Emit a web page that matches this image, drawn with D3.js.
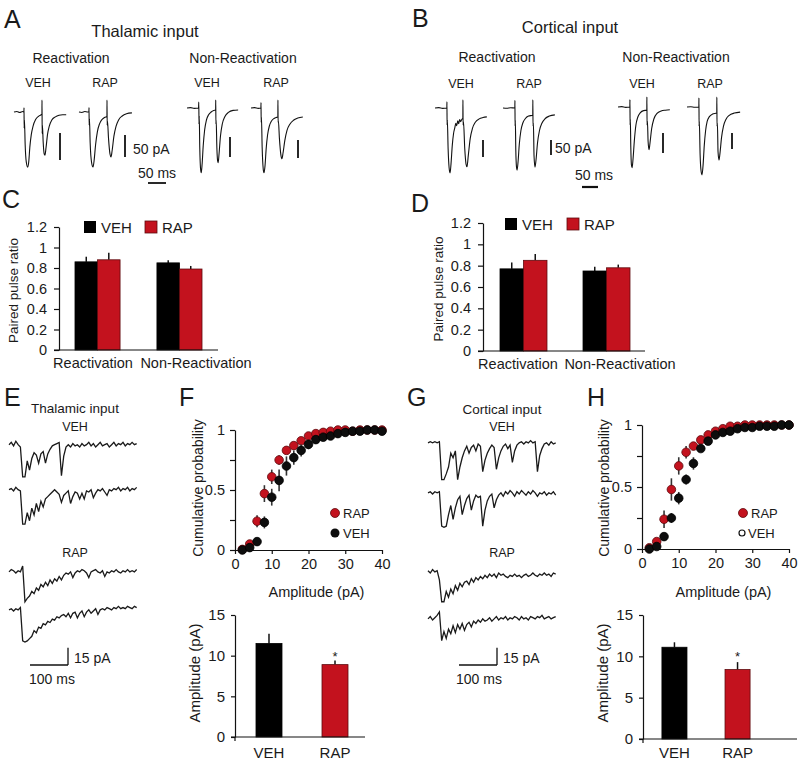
<!DOCTYPE html>
<html><head><meta charset="utf-8">
<script src="https://cdn.jsdelivr.net/npm/d3@7"></script>
<style>
body{margin:0;background:#fff}
svg{display:block}
text{font-family:"Liberation Sans",Arial,Helvetica,sans-serif;fill:#1a1a1a}
</style>
</head><body><script>
// ================= DATA =================
const groups = ["Reactivation", "Non-Reactivation"];
const conds = ["VEH", "RAP"];
// Paired pulse ratio (C: thalamic, D: cortical)
const pprThalVEH = [0.86, 0.85], pprThalVEHerr = [0.05, 0.025];
const pprThalRAP = [0.88, 0.79], pprThalRAPerr = [0.07, 0.03];
const pprCortVEH = [0.77, 0.75], pprCortVEHerr = [0.06, 0.04];
const pprCortRAP = [0.85, 0.78], pprCortRAPerr = [0.06, 0.03];
const pprTicks = [0, 0.2, 0.4, 0.6, 0.8, 1, 1.2];

// Cumulative probability of mEPSC amplitude
const ampBins = [2,4,6,8,10,12,14,16,18,20,22,24,26,28,30,32,34,36,38,40];
const cumThalRAP    = [0.005,0.05,0.24,0.47,0.61,0.75,0.83,0.87,0.91,0.95,0.97,0.98,0.99,1.0,1.0,0.99,1.0,1.0,1.0,1.0];
const cumThalRAPerr = [0,0.01,0.05,0.07,0.06,0.04,0.03,0.02,0.02,0.01,0.01,0,0,0,0,0,0,0,0,0];
const cumThalVEH    = [0.0,0.02,0.07,0.23,0.44,0.58,0.70,0.77,0.83,0.88,0.92,0.94,0.95,0.97,0.98,0.99,0.99,1.0,1.0,0.99];
const cumThalVEHerr = [0,0.01,0.02,0.05,0.07,0.09,0.08,0.06,0.05,0.04,0.03,0.02,0.02,0.01,0.01,0,0,0,0,0];
const cumCortRAP    = [0.01,0.06,0.24,0.48,0.67,0.78,0.83,0.88,0.92,0.95,0.97,0.99,0.99,1.0,1.0,1.0,1.0,1.0,1.0,1.0];
const cumCortRAPerr = [0,0.01,0.07,0.09,0.07,0.05,0.03,0.02,0.02,0.01,0.01,0.01,0,0,0,0,0,0,0,0];
const cumCortVEH    = [0.0,0.02,0.10,0.25,0.41,0.56,0.69,0.81,0.87,0.92,0.94,0.95,0.97,0.98,0.98,0.99,0.99,0.99,1.0,1.0];
const cumCortVEHerr = [0,0.01,0.02,0.04,0.05,0.04,0.05,0.02,0.02,0.01,0.01,0,0,0,0,0,0,0,0,0];
const cumXTicks = [0, 10, 20, 30, 40];
const cumYTicks = [0, 0.25, 0.5, 0.75, 1];
const cumYLabelled = [0, 0.5, 1];

// Mean mEPSC amplitude (pA)
const ampThal = [11.5, 8.9], ampThalErr = [1.2, 0.5];
const ampCort = [11.1, 8.4], ampCortErr = [0.6, 0.9];
const ampTicks = [0, 5, 10, 15];

// Paired-pulse EPSC traces: [time (ms), current (pA)]
const trThalReactVEH = [[0,0],[8,1],[16,-1],[24,1],[27.5,0],[27.8,8],[28.3,-30],[29,-15],[31,-60],[34,-92],[38,-102],[41,-92],[44,-65],[48,-42],[53,-26],[60,-14],[68,-8],[76,-5],[77.6,-4],[77.8,22],[78.3,-40],[79,-25],[81,-55],[84,-78],[86,-80],[89,-66],[93,-42],[98,-26],[105,-15],[115,-9],[125,-6],[135,-5],[145,-5]];
const trThalReactRAP = [[0,0],[8,-1],[16,1],[24,0],[27.5,0],[27.8,10],[28.3,-30],[29,-15],[31,-70],[35,-115],[39,-125],[42,-110],[46,-75],[51,-45],[57,-27],[64,-17],[72,-12],[77.6,-10],[77.8,27],[78.3,-30],[79,-20],[82,-60],[86,-95],[89,-102],[92,-88],[97,-55],[103,-32],[110,-18],[120,-9],[132,-4],[147,-2]];
const trThalNonVEH = [[0,0],[10,1],[20,-1],[32,0],[32.8,15],[33.3,-40],[34,-20],[35.5,-100],[37.5,-150],[39.5,-162],[42,-140],[45,-95],[49,-55],[54,-30],[60,-17],[67,-10],[74,-6],[79.6,-5],[79.8,20],[80.3,-40],[81,-30],[83,-100],[85,-132],[86.5,-137],[89,-115],[93,-70],[98,-40],[105,-22],[115,-11],[128,-6],[142,-5]];
const trThalNonRAP = [[0,0],[10,1],[20,-1],[27.5,0],[27.8,15],[28.3,-40],[29,-25],[31,-110],[34,-170],[36,-180],[39,-160],[42,-115],[46,-75],[51,-50],[57,-36],[64,-29],[71,-26],[74.6,-25],[74.8,22],[75.3,-40],[76,-35],[79,-85],[83,-130],[86,-141],[89,-125],[94,-90],[100,-62],[108,-45],[118,-34],[130,-28],[144,-25]];
const trCortReactVEH = [[0,0],[12,1],[24,-1],[37,0],[37.3,18],[37.8,-50],[38.5,-35],[41,-120],[44,-175],[47,-191],[50,-165],[54,-110],[58,-75],[62,-58],[65,-45],[68,-52],[71,-38],[74,-46],[77,-34],[80,-40],[84,-33],[87,-30],[87.3,24],[87.8,-50],[89,-40],[93,-120],[97,-165],[100,-173],[104,-140],[110,-90],[117,-60],[126,-42],[138,-32],[150,-28],[162,-26]];
const trCortReactRAP = [[0,0],[12,-1],[24,1],[37,0],[37.3,25],[37.8,-60],[38.5,-40],[40,-140],[42,-195],[44,-207],[47,-180],[51,-120],[56,-75],[62,-50],[70,-35],[80,-27],[93,-24],[93.3,27],[93.8,-60],[95,-50],[97,-160],[100,-197],[103,-175],[108,-115],[114,-75],[122,-50],[132,-35],[145,-27],[162,-23]];
const trCortNonVEH = [[0,0],[12,1],[24,-1],[37,0],[37.3,18],[37.8,-45],[38.5,-30],[40,-100],[42,-145],[44,-152],[47,-130],[51,-85],[56,-45],[62,-25],[70,-14],[80,-9],[90,-8],[90.3,25],[90.8,-45],[92,-35],[94,-85],[97,-107],[100,-90],[105,-55],[112,-30],[122,-16],[135,-10],[148,-8],[162,-7]];
const trCortNonRAP = [[0,0],[12,1],[24,-1],[37,0],[37.3,28],[37.8,-60],[38.5,-45],[41,-150],[44,-200],[47,-212],[50,-185],[54,-120],[58,-75],[63,-45],[70,-30],[80,-22],[93,-19],[93.3,31],[93.8,-60],[95,-50],[97,-140],[100,-166],[103,-145],[108,-95],[114,-60],[122,-38],[132,-26],[148,-19],[166,-16]];

// mEPSC recordings (pA), one sample every noiseDt ms
const noiseDt = 6;
const mThalVEH1 = [2,4,1,5,2,0,-26,-26,-12,-20,-10,-5,-7,-14,-6,-4,-14,-6,-2,1,2,3,4,-25,-8,0,2,0,3,1,2,0,3,1,2,4,1,3,0,2,4,1,2,3,0,2,4,1,3,2,4,1,3,2,4,2,3];
const mThalVEH2 = [2,3,1,4,2,1,-28,-28,-18,-25,-14,-20,-10,-17,-8,-13,-6,-4,-2,0,2,0,-2,-9,-3,-1,1,-10,-4,0,-1,-6,-1,-6,1,0,2,-5,-1,2,1,3,0,-3,2,1,3,2,4,1,3,2,4,1,3,2,4];
const mThalRAP1 = [1,3,2,0,2,1,6,-25,-22,-20,-16,-18,-13,-15,-10,-12,-8,-11,-6,-9,-5,-7,-3,-6,-2,0,-1,1,-4,0,2,1,3,2,0,-4,1,2,3,1,0,2,-3,1,0,2,1,3,1,0,2,1,3,1,2,1,3];
const mThalRAP2 = [1,2,0,2,1,3,-26,-27,-26,-24,-22,-17,-19,-14,-15,-11,-12,-9,-10,-7,-8,-5,-6,-4,-3,-5,-2,-6,-2,-1,-6,-2,0,-5,-1,1,-2,0,2,-3,1,2,1,3,2,1,3,2,4,2,3,2,4,3,2,4,3];
const mCortVEH1 = [1,2,1,2,1,2,-31,-31,-26,-20,-8,-12,-6,-31,-20,-12,-6,-2,-8,-3,-1,-6,0,-2,-24,-14,-8,-4,-1,-3,-22,-12,-6,-2,0,-4,-1,-16,-6,-1,1,2,0,2,1,3,1,2,-24,-10,-4,0,1,-1,2,0,1];
const mCortVEH2 = [1,2,0,2,1,2,-28,-29,-28,-18,-10,-22,-12,-5,-2,-18,-10,-4,-1,-14,-6,-1,-3,-2,-28,-14,-6,-2,0,-12,-5,-1,1,-2,2,0,3,1,-2,2,0,3,1,-1,2,0,3,1,-2,1,0,2,-1,1,0,2,-1];
const mCortRAP1 = [2,0,3,1,2,-6,-25,-25,-16,-21,-14,-18,-11,-15,-9,-12,-8,-7,-10,-5,-8,-4,-6,-3,-5,-2,-4,-1,-3,-1,-4,0,-2,-1,-3,-4,-2,-3,-1,-3,-2,-4,-2,-1,-3,-2,0,-2,-3,-1,-2,0,-2,-1,-3,0,-1];
const mCortRAP2 = [1,3,0,2,4,7,-18,-10,-16,-8,-12,-5,-11,-4,-8,-3,-9,-4,-2,-6,-1,-3,0,-2,1,-1,0,2,-1,1,3,0,2,1,3,0,2,1,3,2,0,3,1,2,0,3,2,1,3,2,4,1,2,3,1,2,3];

// ================= LAYOUT / DRAWING =================
const W = 810, H = 767;
const RED = "#c3121e", RED_EDGE = "#5e0a0e", INK = "#111";
const svg = d3.select("body").append("svg").attr("width", W).attr("height", H);

function txt(x, y, s, size, anchor = "middle") {
  return svg.append("text").attr("x", x).attr("y", y).attr("font-size", size)
    .attr("text-anchor", anchor).text(s);
}
function vtxt(x, y, s, size) {
  return svg.append("text").attr("transform", `translate(${x},${y}) rotate(-90)`)
    .attr("font-size", size).attr("text-anchor", "middle").text(s);
}
function styleAxis(g, fs) {
  g.attr("font-family", "Liberation Sans, Arial, sans-serif").attr("font-size", fs);
  g.selectAll("path,line").attr("stroke", INK).attr("stroke-width", 1.2);
  g.selectAll("text").attr("fill", "#1a1a1a");
}
function vline(x, y1, y2, w = 1.5, c = INK) {
  svg.append("line").attr("x1", x).attr("x2", x).attr("y1", y1).attr("y2", y2)
    .attr("stroke", c).attr("stroke-width", w);
}
function hline(x1, x2, y, w = 1.5, c = INK) {
  svg.append("line").attr("x1", x1).attr("x2", x2).attr("y1", y).attr("y2", y)
    .attr("stroke", c).attr("stroke-width", w);
}

// ---- Panel letters ----
[["A",4,28],["B",412,27],["C",2,208],["D",411,212],["E",4,406],["F",179,406],["G",407,406],["H",587,406]]
  .forEach(([s,x,y]) => txt(x, y, s, 25, "start"));

// ---- Headings A / B ----
txt(145, 37, "Thalamic input", 16.5);
txt(570, 33, "Cortical input", 16.5);
txt(71, 63, "Reactivation", 14); txt(243, 63, "Non-Reactivation", 14);
txt(497, 62, "Reactivation", 14); txt(676, 62, "Non-Reactivation", 14);
[[38,"VEH"],[105,"RAP"],[207,"VEH"],[276,"RAP"]].forEach(([x,s]) => txt(x, 87, s, 12.5));
[[461,"VEH"],[529,"RAP"],[642,"VEH"],[710,"RAP"]].forEach(([x,s]) => txt(x, 88, s, 12.5));

// ---- Paired-pulse traces ----
const ppLayout = [
  {data: trThalReactVEH, x0: 14,  base: 112, tg: 0.36, gain: 0.54, barX: 60,  barBottom: 160},
  {data: trThalReactRAP, x0: 79,  base: 112, tg: 0.36, gain: 0.44, barX: 125, barBottom: 157},
  {data: trThalNonVEH,   x0: 187, base: 108, tg: 0.36, gain: 0.40, barX: 230, barBottom: 157},
  {data: trThalNonRAP,   x0: 251, base: 108, tg: 0.36, gain: 0.36, barX: 298, barBottom: 158},
  {data: trCortReactVEH, x0: 435, base: 108, tg: 0.32, gain: 0.34, barX: 483, barBottom: 157},
  {data: trCortReactRAP, x0: 503, base: 108, tg: 0.32, gain: 0.30, barX: 551, barBottom: 155},
  {data: trCortNonVEH,   x0: 618, base: 107, tg: 0.32, gain: 0.40, barX: 663, barBottom: 153},
  {data: trCortNonRAP,   x0: 687, base: 107, tg: 0.32, gain: 0.32, barX: 732, barBottom: 149}
];
ppLayout.forEach(c => {
  const x = d3.scaleLinear().domain([0, 1]).range([c.x0, c.x0 + c.tg]);
  const y = d3.scaleLinear().domain([0, -1]).range([c.base, c.base + c.gain]);
  svg.append("path").datum(c.data)
    .attr("d", d3.line().x(d => x(d[0])).y(d => y(d[1])).curve(d3.curveMonotoneX))
    .attr("fill", "none").attr("stroke", INK).attr("stroke-width", 1.1);
  const barLen = y(-50) - y(0);
  vline(c.barX, c.barBottom, c.barBottom - barLen, 1.8);
});
txt(133, 154, "50 pA", 14, "start");
txt(157, 178, "50 ms", 14);
{ const x = d3.scaleLinear().domain([0, 1]).range([148, 148.36]); hline(x(0), x(50), 183, 1.8); }
txt(555, 153, "50 pA", 14, "start");
txt(594, 180, "50 ms", 14);
{ const x = d3.scaleLinear().domain([0, 1]).range([582, 582.32]); hline(x(0), x(50), 187, 2.2); }

// ---- PPR bar charts (C, D) ----
function drawPPR(cfg, veh, vehErr, rap, rapErr) {
  const y = d3.scaleLinear().domain([0, 1.2]).range([cfg.y0, cfg.y1]);
  const xg = d3.scaleBand().domain(groups).range([cfg.r0, cfg.r1]).paddingInner(cfg.pi).paddingOuter(cfg.po);
  const xc = d3.scaleBand().domain(conds).range([0, xg.bandwidth()]);
  const rows = groups.flatMap((g, i) => [
    {g, c: "VEH", v: veh[i], e: vehErr[i]},
    {g, c: "RAP", v: rap[i], e: rapErr[i]}
  ]);
  rows.forEach(r => {
    const cx = xg(r.g) + xc(r.c) + xc.bandwidth() / 2;
    vline(cx, y(r.v), y(r.v + r.e), 1.5);
  });
  svg.append("g").selectAll("rect").data(rows).join("rect")
    .attr("x", d => xg(d.g) + xc(d.c)).attr("width", xc.bandwidth())
    .attr("y", d => y(d.v)).attr("height", d => y(0) - y(d.v))
    .attr("fill", d => d.c === "VEH" ? "#000" : RED)
    .attr("stroke", d => d.c === "VEH" ? "#000" : RED_EDGE).attr("stroke-width", 0.8);
  const ay = svg.append("g").attr("transform", `translate(${cfg.ax},0)`)
    .call(d3.axisLeft(y).tickValues(pprTicks).tickFormat(d3.format("~g")).tickSize(5).tickPadding(7).tickSizeOuter(0));
  styleAxis(ay, 14.5);
  hline(cfg.ax - 5, cfg.axEnd, cfg.y0, 1.2);
  // legend
  svg.append("rect").attr("x", cfg.leg[0]).attr("y", cfg.legY).attr("width", 12).attr("height", 12).attr("fill", "#000");
  txt(cfg.leg[0] + 17, cfg.legY + 12, "VEH", 15, "start");
  svg.append("rect").attr("x", cfg.leg[1]).attr("y", cfg.legY).attr("width", 12).attr("height", 12)
    .attr("fill", RED).attr("stroke", RED_EDGE).attr("stroke-width", 0.8);
  txt(cfg.leg[1] + 17, cfg.legY + 12, "RAP", 15, "start");
  vtxt(cfg.ylabX, (cfg.y0 + cfg.y1) / 2 + 2, "Paired pulse ratio", 13.5);
  txt(cfg.cat[0], cfg.y0 + 18, groups[0], 14.5);
  txt(cfg.cat[1], cfg.y0 + 18, groups[1], 14.5);
}
drawPPR({y0: 350, y1: 227, r0: 62.7, r1: 214.3, pi: 0.45, po: 0.15, ax: 59, axEnd: 218,
         leg: [84, 145], legY: 221, ylabX: 18, cat: [93, 196]},
        pprThalVEH, pprThalVEHerr, pprThalRAP, pprThalRAPerr);
drawPPR({y0: 351, y1: 223, r0: 483.4, r1: 646.6, pi: 0.434, po: 0.2, ax: 483, axEnd: 645,
         leg: [505, 567], legY: 218, ylabX: 443, cat: [518, 620]},
        pprCortVEH, pprCortVEHerr, pprCortRAP, pprCortRAPerr);

// ---- mEPSC traces (E, G) ----
txt(75, 413, "Thalamic input", 13.5); txt(75, 431, "VEH", 12.5); txt(75, 557, "RAP", 12.5);
txt(502, 414, "Cortical input", 13.5); txt(502, 431, "VEH", 12.5); txt(502, 557, "RAP", 12.5);
const mLayout = [
  {data: mThalVEH1, x0: 9, base: 447}, {data: mThalVEH2, x0: 9, base: 492},
  {data: mThalRAP1, x0: 9, base: 573}, {data: mThalRAP2, x0: 9, base: 611},
  {data: mCortVEH1, x0: 428, base: 444}, {data: mCortVEH2, x0: 428, base: 494},
  {data: mCortRAP1, x0: 428, base: 573}, {data: mCortRAP2, x0: 428, base: 620}
];
const mTg = 0.38, mGain = 1.15;
mLayout.forEach(c => {
  const x = d3.scaleLinear().domain([0, 1]).range([c.x0, c.x0 + mTg]);
  const y = d3.scaleLinear().domain([0, -1]).range([c.base, c.base + mGain]);
  svg.append("path").datum(c.data)
    .attr("d", d3.line().x((d, i) => x(i * noiseDt)).y(d => y(d)))
    .attr("fill", "none").attr("stroke", "#1a1a1a").attr("stroke-width", 1.3);
});
function mScaleBar(xR, yB, labX, msX) {
  const x = d3.scaleLinear().domain([0, 1]).range([xR, xR + mTg]);
  const y = d3.scaleLinear().domain([0, 1]).range([yB, yB - mGain]);
  hline(x(-100), xR, yB, 1.3);
  vline(xR, yB, y(15), 1.3);
  txt(labX, yB - 2, "15 pA", 14, "start");
  txt(msX, yB + 19, "100 ms", 14);
}
mScaleBar(68, 665, 74, 52);
mScaleBar(497, 665, 503, 479);

// ---- Cumulative plots (F, H) ----
function drawCum(cfg, rap, rapErr, veh, vehErr) {
  const x = d3.scaleLinear().domain([0, 40]).range([cfg.x0, cfg.x1]);
  const y = d3.scaleLinear().domain([0, 1]).range([cfg.y0, cfg.y1]);
  const ax = svg.append("g").attr("transform", `translate(0,${cfg.y0})`)
    .call(d3.axisBottom(x).tickValues(cumXTicks).tickSize(4).tickPadding(5).tickSizeOuter(0));
  styleAxis(ax, 14.5);
  const ay = svg.append("g").attr("transform", `translate(${cfg.x0},0)`)
    .call(d3.axisLeft(y).tickValues(cumYTicks)
      .tickFormat(d => cumYLabelled.includes(d) ? d3.format("~g")(d) : "")
      .tickSize(5).tickPadding(5).tickSizeOuter(0));
  styleAxis(ay, 14.5);
  const series = [
    {v: rap, e: rapErr, fill: RED, stroke: RED_EDGE},
    {v: veh, e: vehErr, fill: "#0d0d0d", stroke: "#000"}
  ];
  series.forEach(s => {
    const pts = ampBins.map((b, i) => ({b, v: s.v[i], e: s.e[i]}));
    const g = svg.append("g");
    pts.filter(p => p.e > 0).forEach(p => {
      g.append("line").attr("x1", x(p.b)).attr("x2", x(p.b))
        .attr("y1", y(p.v - p.e)).attr("y2", y(p.v + p.e))
        .attr("stroke", "#333").attr("stroke-width", 1.6);
    });
    g.selectAll("circle").data(pts).join("circle")
      .attr("cx", d => x(d.b)).attr("cy", d => y(d.v)).attr("r", 4.3)
      .attr("fill", s.fill).attr("stroke", s.stroke).attr("stroke-width", 0.8);
  });
  vtxt(cfg.ylabX, 488, "Cumulative probability", 14);
  txt((cfg.x0 + cfg.x1) / 2 + 8, 597, "Amplitude (pA)", 14.5);
  // legend
  svg.append("circle").attr("cx", cfg.legX).attr("cy", 513).attr("r", 4.5).attr("fill", RED).attr("stroke", RED_EDGE).attr("stroke-width", 0.8);
  txt(cfg.legX + 8, 518, "RAP", 13, "start");
  if (cfg.openVeh) {
    svg.append("circle").attr("cx", cfg.legX - 1).attr("cy", 533).attr("r", 3).attr("fill", "#fff").attr("stroke", "#111").attr("stroke-width", 1.2);
    txt(cfg.legX + 5, 538, "VEH", 13, "start");
  } else {
    svg.append("circle").attr("cx", cfg.legX).attr("cy", 533).attr("r", 4.5).attr("fill", "#0d0d0d");
    txt(cfg.legX + 8, 538, "VEH", 13, "start");
  }
}
drawCum({x0: 235, x1: 382, y0: 550, y1: 430, ylabX: 203, legX: 335, openVeh: false},
        cumThalRAP, cumThalRAPerr, cumThalVEH, cumThalVEHerr);
drawCum({x0: 642, x1: 789, y0: 549, y1: 425, ylabX: 609, legX: 743, openVeh: true},
        cumCortRAP, cumCortRAPerr, cumCortVEH, cumCortVEHerr);

// ---- Mean amplitude bars (F, H bottom) ----
function drawAmp(cfg, vals, errs) {
  const y = d3.scaleLinear().domain([0, 15]).range([cfg.y0, cfg.y1]);
  const x = d3.scaleBand().domain(conds).range([cfg.r0, cfg.r1]).paddingInner(cfg.pi).paddingOuter(cfg.po);
  const rows = conds.map((c, i) => ({c, v: vals[i], e: errs[i]}));
  rows.forEach(r => vline(x(r.c) + x.bandwidth() / 2, y(r.v), y(r.v + r.e), 1.5));
  svg.append("g").selectAll("rect").data(rows).join("rect")
    .attr("x", d => x(d.c)).attr("width", x.bandwidth())
    .attr("y", d => y(d.v)).attr("height", d => y(0) - y(d.v))
    .attr("fill", d => d.c === "VEH" ? "#000" : RED)
    .attr("stroke", d => d.c === "VEH" ? "#000" : RED_EDGE).attr("stroke-width", 0.8);
  const ay = svg.append("g").attr("transform", `translate(${cfg.ax},0)`)
    .call(d3.axisLeft(y).tickValues(ampTicks).tickSize(4).tickPadding(6).tickSizeOuter(0));
  styleAxis(ay, 15);
  hline(cfg.ax - 4, cfg.axEnd, cfg.y0, 1.2);
  vline(cfg.ax, cfg.y0, cfg.y0 + 4, 1.2);
  rows.forEach(r => txt(x(r.c) + x.bandwidth() / 2, 758, r.c, 15));
  txt(x("RAP") + x.bandwidth() / 2, 661, "*", 13);
  vtxt(cfg.ylabX, 673, "Amplitude (pA)", 15);
}
drawAmp({y0: 737, y1: 615, r0: 235, r1: 369, pi: 0.606, po: 0.318, ax: 235, axEnd: 365, ylabX: 200},
        ampThal, ampThalErr);
drawAmp({y0: 739, y1: 615, r0: 643, r1: 769, pi: 0.603, po: 0.3, ax: 643, axEnd: 797, ylabX: 608},
        ampCort, ampCortErr);
</script></body></html>
